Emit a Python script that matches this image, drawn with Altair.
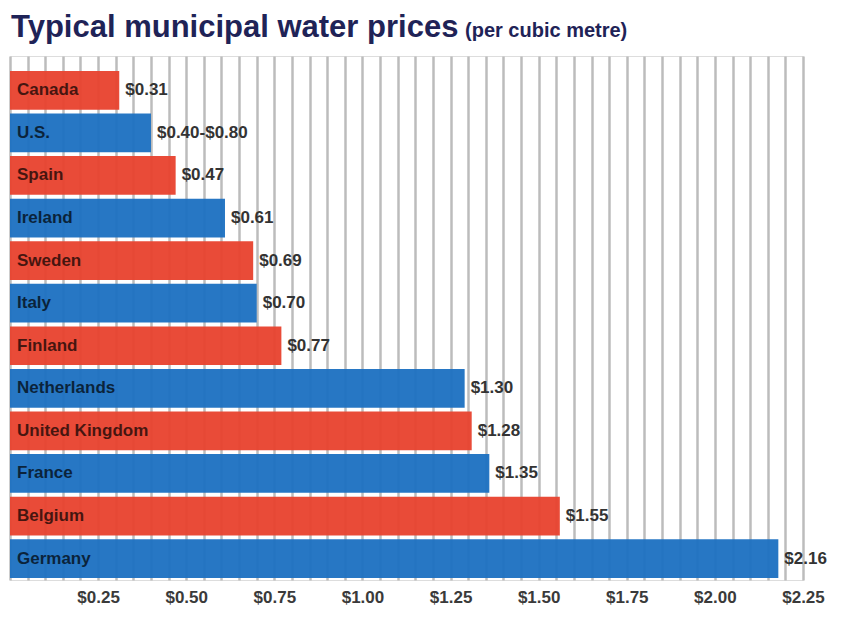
import altair as alt
import pandas as pd

countries = ["Canada", "U.S.", "Spain", "Ireland", "Sweden", "Italy", "Finland",
             "Netherlands", "United Kingdom", "France", "Belgium", "Germany"]
prices = [0.31, 0.40, 0.47, 0.61, 0.69, 0.70, 0.77, 1.29, 1.31, 1.36, 1.56, 2.18]
price_labels = ["$0.31", "$0.40-$0.80", "$0.47", "$0.61", "$0.69", "$0.70", "$0.77",
                "$1.30", "$1.28", "$1.35", "$1.55", "$2.16"]
groups = ["r", "b", "r", "b", "r", "b", "r", "b", "r", "b", "r", "b"]
grid_values = [round(0.05 * i, 2) for i in range(46)]
title_parts = ["Typical municipal water prices", "(per cubic metre)"]

df = pd.DataFrame({"country": countries, "price": prices,
                   "label": price_labels, "group": groups})

FONT = "Liberation Sans"

x = alt.X("price:Q",
          scale=alt.Scale(domain=[0, 2.25], nice=False, zero=True),
          axis=alt.Axis(values=grid_values, title=None, domain=False, ticks=False,
                        grid=True, gridColor="#bcbcbc", gridWidth=2.5,
                        labelExpr="(datum.value > 0 && abs(datum.value*4 - round(datum.value*4)) < 0.001) ? '$' + format(datum.value, '.2f') : ''",
                        labelOverlap=False, labelFlush=False, labelPadding=9,
                        labelFont=FONT, labelFontSize=17, labelFontWeight="bold",
                        labelColor="#3a3a3a"))
y = alt.Y("country:N", sort=countries,
          scale=alt.Scale(paddingInner=0.09, paddingOuter=0.2, align=0.88),
          axis=None)

bars = alt.Chart(df).mark_bar(opacity=0.95).encode(
    x=x, y=y,
    color=alt.Color("group:N", scale=alt.Scale(domain=["r", "b"], range=["#e8412d", "#1b70c1"]),
                    legend=None),
)

names = alt.Chart(df).mark_text(align="left", baseline="middle", font=FONT,
                                fontSize=17, fontWeight="bold", color="#000000",
                                opacity=0.7).encode(
    x=alt.value(7), y=y, text="country:N")

values = alt.Chart(df).mark_text(align="left", baseline="middle", dx=6, font=FONT,
                                 fontSize=17, fontWeight="bold", color="#333333").encode(
    x=x, y=y, text="label:N")

title_main = alt.Chart(pd.DataFrame({"t": [title_parts[0]]})).mark_text(
    align="left", baseline="alphabetic", font=FONT, fontSize=31, fontWeight="bold",
    color="#1f2357").encode(x=alt.value(1), y=alt.value(-19), text="t:N")

sub = alt.Chart(pd.DataFrame({"t": [title_parts[1]]})).mark_text(
    align="left", baseline="alphabetic", font=FONT, fontSize=20, fontWeight="bold",
    color="#1f2357").encode(x=alt.value(455), y=alt.value(-19), text="t:N")

chart = alt.layer(bars, names, values, title_main, sub).properties(
    width=793, height=524,
    autosize=alt.AutoSizeParams(type="none"),
    padding={"left": 2, "top": 48, "right": 30, "bottom": 28},
).configure_view(stroke="#c4c4c4", strokeWidth=2).configure(background="white")

chart.save("out.html", embed_options={"renderer": "svg", "actions": False})
